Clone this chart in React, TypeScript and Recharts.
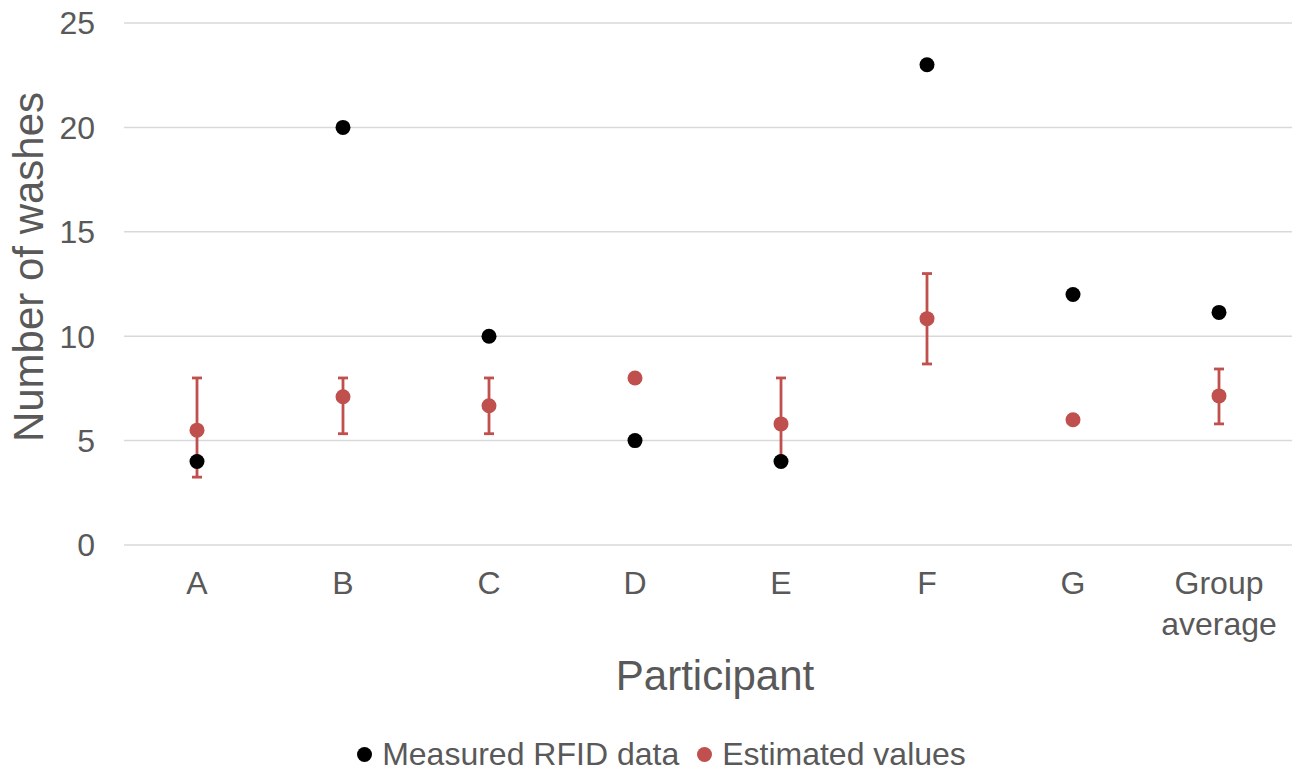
import { ComposedChart, Scatter, XAxis, YAxis, CartesianGrid, ErrorBar, Legend } from 'recharts';

const participants = ['A', 'B', 'C', 'D', 'E', 'F', 'G', 'Group average'];
const measured = [4, 20, 10, 5, 4, 23, 12, 11.14];
const estimated = [5.5, 7.1, 6.67, 8, 5.8, 10.84, 6, 7.14];
const estimatedLow = [3.25, 5.33, 5.33, 8, 4, 8.67, 6, 5.8];
const estimatedHigh = [8, 8, 8, 8, 8, 13, 6, 8.43];
const yTicks = [0, 5, 10, 15, 20, 25];

const RED = '#C0504D';
const GREY = '#595959';
const FONT = '"Liberation Sans", Arial, sans-serif';

const data = participants.map((name, i) => ({
    name,
    measured: measured[i],
    estimated: estimated[i],
    estErr: [estimated[i] - estimatedLow[i], estimatedHigh[i] - estimated[i]],
}));

const Dot = (color: string) => (props: any) => (
    <circle cx={props.cx} cy={props.cy} r={7.5} fill={color} />
);

const XTick = (props: any) => {
    const { x, y, payload } = props;
    const lines = String(payload.value).split(' ');
    return (
        <text x={x} y={y} textAnchor="middle" fill={GREY} fontSize={32} fontFamily={FONT}>
            {lines.map((l, i) => (
                <tspan key={l} x={x} dy={i === 0 ? 35 : 41}>{l}</tspan>
            ))}
        </text>
    );
};

const LegendContent = () => (
    <div style={{ display: 'flex', justifyContent: 'center', alignItems: 'center', paddingLeft: 31, fontFamily: FONT, fontSize: 32, color: GREY, lineHeight: '36px' }}>
        <span style={{ width: 15, height: 15, borderRadius: '50%', background: '#000', display: 'inline-block', marginRight: 10 }} />
        <span style={{ marginRight: 18 }}>Measured RFID data</span>
        <span style={{ width: 15, height: 15, borderRadius: '50%', background: RED, display: 'inline-block', marginRight: 10 }} />
        <span>Estimated values</span>
    </div>
);

export default function App() {
    return (
        <div style={{ position: 'absolute', left: 0, top: 0, width: 1295, height: 772, background: '#fff' }}>
            <ComposedChart width={1295} height={772} data={data} margin={{ top: 23, right: 3, left: 0, bottom: 0 }}>
                <CartesianGrid vertical={false} stroke="#d9d9d9" strokeWidth={1.5} />
                <XAxis
                    dataKey="name"
                    type="category"
                    axisLine={false}
                    tickLine={false}
                    tickSize={0}
                    tickMargin={14}
                    height={191}
                    padding={{ left: 73, right: 73 }}
                    interval={0}
                    tick={<XTick />}
                    label={{ value: 'Participant', position: 'insideTop', dx: 7, dy: 110, fill: GREY, fontSize: 42, fontFamily: FONT }}
                />
                <YAxis
                    type="number"
                    domain={[0, 25]}
                    ticks={yTicks}
                    width={124}
                    axisLine={false}
                    tickLine={false}
                    tickSize={0}
                    tickMargin={29}
                    tick={{ fill: GREY, fontSize: 32, fontFamily: FONT }}
                    label={{ value: 'Number of washes', angle: -90, position: 'insideLeft', dx: 23, dy: -17, fill: GREY, fontSize: 42, fontFamily: FONT, style: { textAnchor: 'middle' } }}
                />
                <Legend verticalAlign="bottom" content={<LegendContent />} wrapperStyle={{ bottom: 0 }} />
                <Scatter name="Estimated values" dataKey="estimated" fill={RED} shape={Dot(RED)} isAnimationActive={false}>
                    <ErrorBar dataKey="estErr" direction="y" stroke={RED} strokeWidth={2.8} width={5} />
                </Scatter>
                <Scatter name="Measured RFID data" dataKey="measured" fill="#000" shape={Dot('#000')} isAnimationActive={false} />
            </ComposedChart>
        </div>
    );
}
